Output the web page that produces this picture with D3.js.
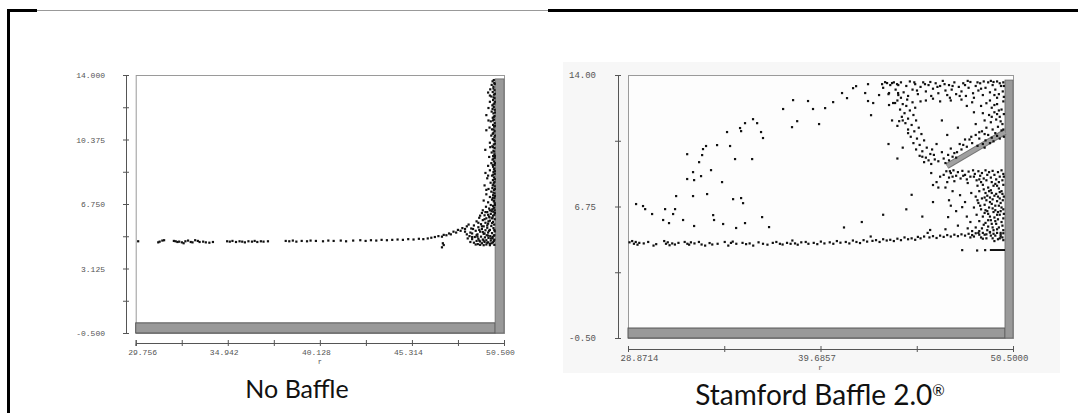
<!DOCTYPE html>
<html>
<head>
<meta charset="utf-8">
<script src="https://cdn.jsdelivr.net/npm/d3@7"></script>
<style>
  body { margin: 0; background: #fff; }
  .tick text, .lbl { font-family: "Liberation Mono", "DejaVu Sans Mono", monospace; fill: #555; }
  .title { font-family: Lato, "Open Sans", sans-serif; fill: #111; }
</style>
</head>
<body>
<svg id="chart" width="1078" height="413"></svg>
<script>
// ---- left panel: no baffle ----
const leftXTicks = [29.756, 34.942, 40.128, 45.314, 50.5]
const leftYTicks = [14.0, 10.375, 6.75, 3.125, -0.5]
const leftFloorTop = 0.07
const leftWall = { x: 50.0, top: 13.78 }

const leftBand = [
  [29.89,4.66],[31.02,4.6],[31.1,4.64],[31.25,4.7],[31.35,4.72],[31.9,4.68],[32.0,4.66],[32.1,4.62],[32.2,4.64],[32.35,4.6],
  [32.45,4.55],[32.55,4.66],[32.7,4.7],[32.85,4.62],[32.95,4.6],[33.1,4.72],[33.25,4.68],[33.35,4.62],[33.55,4.64],[33.7,4.6],
  [33.9,4.58],[34.1,4.62],[34.9,4.66],[35.05,4.64],[35.2,4.68],[35.4,4.62],[35.6,4.66],[35.75,4.64],[35.9,4.6],[36.1,4.66],
  [36.3,4.64],[36.45,4.68],[36.6,4.62],[36.8,4.66],[36.95,4.64],[37.2,4.66],[38.2,4.68],[38.4,4.66],[38.6,4.7],[38.8,4.64],
  [39.1,4.68],[39.4,4.66],[39.6,4.7],[39.9,4.68],[40.3,4.66],[40.6,4.7],[40.9,4.68],[41.3,4.7],[41.6,4.66],[42.0,4.7],
  [42.4,4.72],[42.7,4.68],[43.0,4.72],[43.3,4.7],[43.6,4.74],[43.9,4.72],[44.2,4.74],[44.5,4.76],[44.8,4.74],[45.1,4.78],
  [45.4,4.76],[45.7,4.8],[45.95,4.78],[46.2,4.82],[46.4,4.86],[46.6,4.9],[46.8,4.95],[47.0,4.92],[47.1,5.02],[47.25,5.0],
  [47.4,5.1],[47.5,5.05],[47.65,5.2],[47.8,5.15],[47.9,5.3],[48.05,5.25],[48.15,5.4],[48.3,5.35],[48.4,5.5],[47.0,4.32],
  [47.05,4.55],[47.1,4.45]
]
const leftCluster = [
  [49.92,13.72],[49.85,13.65],[49.95,13.55],[49.8,13.45],[49.9,13.35],[49.72,13.2],[49.96,13.15],[49.86,13.05],[49.6,13.02],[49.93,12.9],
  [49.78,12.8],[49.96,12.7],[49.88,12.6],[49.7,12.5],[49.95,12.4],[49.84,12.3],[49.92,12.2],[49.62,12.15],[49.97,12.05],[49.8,11.95],
  [49.9,11.85],[49.5,11.75],[49.96,11.7],[49.86,11.6],[49.93,11.5],[49.75,11.4],[49.97,11.3],[49.88,11.2],[49.94,11.1],[49.68,11.05],
  [49.82,10.95],[49.5,10.9],[49.96,10.85],[49.9,10.75],[49.78,10.6],[49.95,10.5],[49.86,10.4],[49.97,10.3],[49.7,10.2],[49.92,10.1],
  [49.84,10.0],[49.96,9.9],[49.44,9.8],[49.9,9.75],[49.8,9.65],[49.95,9.55],[49.88,9.45],[49.66,9.4],[49.97,9.35],[49.85,9.25],
  [49.93,9.15],[49.78,9.05],[49.96,8.95],[49.6,8.9],[49.88,8.85],[49.95,8.75],[49.7,8.65],[49.9,8.55],[49.45,8.5],[49.97,8.45],
  [49.82,8.35],[49.93,8.25],[49.55,8.2],[49.87,8.1],[49.96,8.0],[49.74,7.95],[49.9,7.85],[49.4,7.8],[49.97,7.75],[49.84,7.65],
  [49.62,7.6],[49.93,7.55],[49.78,7.45],[49.96,7.35],[49.5,7.3],[49.88,7.25],[49.7,7.15],[49.95,7.1],[49.82,7.0],[49.35,6.95],
  [49.92,6.9],[49.6,6.85],[49.97,6.8],[49.75,6.7],[49.88,6.65],[49.48,6.6],[49.94,6.55],[49.66,6.5],[49.83,6.45],[49.97,6.4],
  [49.9,6.32],[49.55,6.3],[49.25,6.25],[49.75,6.2],[49.95,6.15],[49.4,6.12],[49.65,6.05],[49.85,6.0],[49.1,5.98],[49.5,5.95],
  [49.97,5.9],[49.3,5.85],[49.7,5.82],[48.95,5.78],[49.88,5.75],[49.45,5.7],[49.6,5.65],[49.2,5.62],[49.94,5.6],[48.8,5.55],
  [49.78,5.52],[49.35,5.5],[49.05,5.45],[49.55,5.42],[49.9,5.4],[48.65,5.38],[49.25,5.35],[49.7,5.3],[49.45,5.28],[48.9,5.25],
  [49.97,5.22],[49.15,5.2],[49.6,5.15],[49.82,5.12],[48.7,5.1],[49.35,5.08],[49.0,5.05],[49.52,5.0],[49.92,4.98],[49.72,4.95],
  [48.55,4.95],[49.2,4.92],[48.85,4.9],[49.42,4.88],[49.62,4.85],[49.85,4.82],[49.05,4.8],[48.7,4.78],[49.3,4.76],[49.95,4.75],
  [49.5,4.72],[49.75,4.7],[48.95,4.68],[49.15,4.65],[49.4,4.62],[49.6,4.6],[49.88,4.6],[48.8,4.58],[49.25,4.55],[49.7,4.52],
  [49.02,4.5],[49.5,4.48],[49.95,4.46],[49.35,4.44]
]
const leftWallColumn = [
  [49.97,13.5],[49.9,13.25],[49.98,12.95],[49.91,12.75],[49.98,12.5],[49.9,12.35],[49.85,12.1],[49.98,11.9],[49.92,11.65],[49.88,11.45],
  [49.98,11.15],[49.91,10.95],[49.86,10.7],[49.98,10.6],[49.92,10.35],[49.98,10.15],[49.88,9.95],[49.94,9.7],[49.98,9.45],[49.9,9.3],
  [49.98,9.05],[49.86,8.95],[49.93,8.7],[49.98,8.6],[49.89,8.4],[49.98,8.15],[49.92,7.95],[49.86,7.8],[49.98,7.6],[49.9,7.4],
  [49.98,7.2],[49.86,7.1],[49.93,6.95],[49.98,6.7],[49.9,6.5],[49.8,6.35],[49.98,6.25],[49.88,6.1],[49.7,6.4],[49.6,6.15],
  [49.3,6.4],[49.15,6.1],[49.82,5.95],[49.4,5.9],[49.05,5.7],[49.62,5.78],[49.25,5.5],[48.75,5.35],[49.1,5.3],[49.65,5.25],
  [48.6,5.15],[49.3,5.18],[48.95,5.0],[49.6,4.98],[48.4,5.05],[48.45,4.82],[49.1,4.7],[49.35,4.7],[48.6,4.62],[49.8,4.55],
  [49.55,4.58],[48.9,4.48],[49.15,4.46],[49.7,4.44],[48.7,4.9],[49.0,4.92],[49.85,4.9],[48.3,5.2],[48.5,5.6],[49.45,6.3],
  [49.95,5.3],[49.95,5.0],[49.92,4.68],[49.75,4.82],[49.4,5.1],[49.55,5.55],[49.82,5.68],[49.68,6.0],[49.5,7.55],[49.6,8.35],
  [49.72,9.95],[49.62,11.45],[49.7,12.85]
]

// ---- right panel: Stamford Baffle 2.0 ----
const rightXTicks = [28.8714, 39.6857, 50.5]
const rightYTicks = [14.0, 6.75, -0.5]
const rightFloorTop = 0.05
const rightWall = { x: 50.05, top: 13.72 }
const baffle = [[46.79, 8.98], [50.05, 10.86]]
const ledge = [[49.2, 4.35], [50.05, 4.35]]

const rightBand = [
  [28.95,4.78],[29.1,4.85],[29.2,4.7],[29.3,4.8],[29.4,4.65],[29.5,4.75],[29.75,4.72],[30.0,4.8],[30.3,4.6],[30.45,4.68],
  [30.9,4.85],[31.0,4.7],[31.1,4.78],[31.2,4.62],[31.35,4.72],[31.5,4.66],[31.7,4.75],[32.05,4.8],[32.2,4.7],[32.3,4.65],
  [32.4,4.78],[32.6,4.72],[32.85,4.8],[33.0,4.66],[33.2,4.6],[33.45,4.74],[33.6,4.66],[33.9,4.7],[34.3,4.8],[34.5,4.6],
  [34.65,4.75],[34.75,4.82],[34.95,4.7],[35.3,4.75],[35.5,4.68],[35.7,4.72],[35.9,4.6],[36.2,4.78],[36.45,4.7],[36.7,4.65],
  [37.0,4.75],[37.2,4.8],[37.4,4.7],[37.55,4.66],[37.8,4.75],[38.0,4.7],[38.1,4.88],[38.25,4.72],[38.4,4.65],[38.6,4.78],
  [38.85,4.8],[39.0,4.7],[39.3,4.75],[39.5,4.68],[39.7,4.82],[39.9,4.72],[40.2,4.78],[40.4,4.7],[40.6,4.85],[40.8,4.76],
  [41.1,4.8],[41.3,4.72],[41.5,4.88],[41.7,4.8],[41.9,4.74],[42.1,4.9],[42.3,4.82],[42.5,5.1],[42.6,4.86],[42.8,4.9],
  [43.0,4.8],[43.2,4.95],[43.4,4.88],[43.6,4.92],[43.8,4.85],[44.0,4.98],[44.2,4.9],[44.4,5.05],[44.6,4.95],[44.8,5.0],
  [45.0,4.92],[45.15,5.08],[45.3,5.0],[45.5,5.1],[45.7,5.3],[45.84,5.46],[45.8,5.05],[46.0,5.12],[46.2,5.02],[46.4,5.15],
  [46.6,5.08],[46.8,5.18],[47.0,5.1],[47.2,5.2],[47.4,5.12],[47.6,5.22],[47.8,5.15],[48.0,5.25],[48.2,5.18],[48.4,5.28],
  [48.6,5.2],[48.8,5.3],[49.0,5.22],[49.2,5.32],[49.4,5.25],[49.6,5.3],[49.8,5.2],[49.95,5.28],
  [47.64,4.35],[48.48,4.33],[48.93,4.35]
]
const rightArcs = [
  [29.32,6.89],[29.71,6.78],[29.83,6.61],[30.22,6.34],[30.84,6.01],[30.95,6.61],[31.17,5.84],[31.4,6.34],[31.51,6.61],[31.57,7.33],
  [31.96,6.01],[32.19,9.64],[32.19,8.27],[32.52,7.33],[32.52,8.65],[32.58,5.68],[32.58,8.21],[32.86,9.2],[33.03,9.59],[32.97,8.43],
  [33.08,9.92],[33.25,10.09],[33.31,7.44],[33.53,8.76],[33.65,6.28],[33.7,6.01],[33.87,10.14],[34.15,8.1],[34.21,5.79],[34.43,10.86],
  [34.6,10.09],[34.77,7.16],[34.88,9.37],[34.94,5.57],[35.16,11.08],[35.22,10.91],[35.22,7.22],[35.33,6.94],[35.44,11.35],[35.44,5.84],
  [35.84,9.37],[35.89,11.57],[36.12,11.35],[36.34,10.86],[36.45,10.53],[36.4,6.17],[36.79,5.62],[37.58,12.13],[38.08,11.13],[38.14,12.62],
  [38.37,11.46],[38.98,12.57],[39.26,12.13],[39.6,11.3],[39.94,12.18],[40.39,12.51],[40.89,13.01],[41.17,12.73],[41.51,13.28],[41.68,13.39],
  [42.19,13.01],[42.35,13.5],[42.35,12.57],[42.52,11.79],[42.64,12.46],[42.97,12.9],[43.14,13.5],[43.31,13.61],[43.42,13.56],[43.53,12.35],
  [43.53,13.01],[43.7,13.56],[43.76,12.46],[43.87,12.46],[43.98,13.5],[44.04,13.01],[44.1,11.46],
  [41.0,5.6],[42.0,5.9],[43.2,6.3],[44.5,6.6],[45.4,6.2],[46.0,7.0],[46.3,7.8],[44.8,7.4]
]
const rightUpperLoop = [
  [43.2,13.3],[43.6,13.45],[43.9,13.2],[44.2,13.6],[44.35,13.05],[44.5,13.4],[44.7,13.65],[44.85,13.2],[45.0,13.5],[45.15,12.95],
  [45.3,13.35],[45.45,13.6],[45.6,13.1],[45.75,13.45],[45.9,12.85],[46.0,13.25],[46.15,13.55],[46.3,13.0],[46.4,13.4],[46.55,13.68],
  [46.7,13.15],[46.8,12.9],[46.9,13.45],[47.05,13.2],[47.2,13.6],[47.3,12.95],[47.45,13.35],[47.6,13.1],[47.7,13.55],[47.85,12.85],
  [48.0,13.3],[48.1,13.62],[48.25,13.0],[48.4,13.4],[48.55,13.15],[48.65,13.55],[48.8,12.9],[48.95,13.3],[49.1,13.6],[49.2,13.05],
  [49.35,13.45],[49.5,13.2],[49.6,13.65],[49.7,12.95],[49.82,13.4],[49.92,13.1],[49.95,13.6],[44.05,12.9],[45.1,13.15],[46.25,13.35],
  [47.5,12.85],[48.7,13.25],[49.45,12.9],[43.5,12.95],[44.6,12.85],[45.85,13.62],[47.95,13.68],[49.25,13.68],[46.95,12.75],[48.3,12.75],
  [44.0,12.6],[44.3,12.4],[44.15,12.1],[44.5,12.3],[44.4,11.9],[44.7,12.05],[44.25,11.7],[44.6,11.6],[44.9,11.8],[44.45,11.35],
  [44.8,11.25],[45.05,11.5],[44.6,11.0],[44.95,10.9],[45.2,11.1],[44.75,10.6],[45.1,10.5],[45.35,10.75],[44.9,10.25],[45.25,10.15],
  [45.5,10.4],[45.05,9.9],[45.4,9.8],[45.65,10.0],[45.25,9.55],[45.6,9.45],[45.85,9.65],[45.5,9.2],[45.9,9.1],[46.1,9.35],
  [43.7,11.5],[44.0,11.2],[43.5,10.2],[44.3,10.0],[44.0,9.4],[44.55,12.65],[45.3,12.55],[45.0,12.2],
  [45.6,12.6],[46.0,12.7],[46.4,12.55],[47.0,12.6],[47.6,12.65],[48.2,12.5],
  [48.7,12.3],[49.0,12.45],[49.3,12.2],[49.6,12.4],[49.85,12.1],[48.8,11.9],[49.15,11.8],[49.45,11.95],[49.75,11.7],[48.9,11.5],
  [49.25,11.4],[49.55,11.55],[49.9,11.3],[49.0,11.1],[49.35,11.0],[49.65,11.15],[48.75,10.9],[49.1,10.7],[49.5,10.8],[49.85,10.95],
  [48.6,10.5],[48.95,10.4],[49.3,10.55],[48.5,10.1],[48.8,10.2],[47.9,12.3],[48.3,11.95],[48.4,11.3],
  [46.3,9.25],[46.6,9.4],[46.85,9.6],[47.1,9.5],[47.35,9.75],[47.6,9.9],[47.9,10.05],[48.2,10.25],[47.0,9.95],[47.5,10.2],
  [46.5,9.75],[47.8,10.45],[48.15,10.6],[46.7,9.15],[46.9,9.3],[47.3,9.45],[48.4,10.7],[45.95,9.9],[46.2,10.2],
  [46.5,11.5],[47.4,11.1],[46.8,10.7],
  [49.98,13.4],[49.75,13.55],[49.4,13.62],[48.85,13.65],[48.5,13.6],[47.8,13.45],[47.1,13.4],[46.65,13.5],[45.55,13.5],[44.95,13.6],
  [44.05,13.45],[43.8,13.6],[49.98,12.8],[49.6,12.75],[49.2,12.6],[49.95,12.55],[49.7,12.05],[49.45,12.35],[49.98,11.85],[49.8,11.45],
  [49.6,11.85],[49.3,11.7],[49.95,11.0],[49.75,10.5],[49.98,10.6],[49.4,10.35],[49.2,10.25],[48.9,10.0],[49.6,10.65],[44.85,12.5],
  [44.2,12.75],[44.3,11.5],[44.6,10.8],[45.4,9.5],[45.75,9.3],[46.05,9.6],[47.2,9.7],[47.7,10.15],[48.05,10.45],[48.6,10.85],
  [48.9,10.75]
]
const rightLowerCloud = [
  [46.6,8.5],[46.75,8.7],[46.9,8.35],[47.0,8.6],[47.15,8.75],[47.3,8.45],[47.4,8.65],[47.55,8.3],[47.65,8.72],[47.8,8.5],
  [47.9,8.25],[48.0,8.68],[48.1,8.4],[48.25,8.75],[48.35,8.55],[48.45,8.2],[48.55,8.7],[48.65,8.45],[48.75,8.6],[48.85,8.3],
  [48.95,8.75],[49.05,8.5],[49.15,8.65],[49.25,8.35],[49.35,8.72],[49.45,8.5],[49.55,8.25],[49.65,8.65],[49.75,8.4],[49.85,8.75],
  [49.95,8.55],[47.2,8.15],[47.95,8.05],[48.7,8.1],[49.5,8.0],[46.8,8.1],
  [48.5,7.9],[48.8,7.95],[49.1,7.8],[49.4,7.9],[49.7,7.75],[49.95,7.95],[48.6,7.6],[48.95,7.5],[49.25,7.65],[49.55,7.45],
  [49.85,7.6],[48.4,7.3],[48.75,7.2],[49.05,7.35],[49.35,7.15],[49.65,7.3],[49.92,7.1],[48.55,6.95],[48.9,6.85],[49.2,7.0],
  [49.5,6.8],[49.8,6.95],[48.7,6.6],[49.05,6.5],[49.35,6.65],[49.65,6.45],[49.95,6.6],[48.45,6.3],[48.8,6.2],[49.1,6.35],
  [49.45,6.15],[49.75,6.3],[49.95,6.1],[48.6,5.95],[48.95,5.85],[49.25,6.0],[49.55,5.8],[49.85,5.9],[48.4,5.6],[48.75,5.55],
  [49.1,5.65],[49.4,5.45],[49.7,5.6],[49.95,5.45],[48.55,5.3],[48.9,5.2],[49.2,5.35],[49.5,5.15],[49.8,5.3],[48.7,5.05],
  [49.35,5.0],[49.9,5.05],[49.6,7.05],[49.15,6.7],[49.85,6.7],[49.0,7.1],[49.6,6.3],[49.3,5.8],[49.75,5.0],[48.2,5.4],
  [48.1,5.9],[48.3,6.7],[48.15,7.5],
  [46.7,7.8],[47.1,7.6],[47.52,7.38],[46.9,7.1],[47.64,6.72],[46.85,6.17],[47.3,6.5],[47.8,7.0],[47.9,6.2],[47.4,5.7],
  [46.7,5.5],[47.95,5.55],[47.0,6.8],[46.0,7.94],[46.4,8.4],[46.2,8.1],[45.9,8.6],
  [49.98,8.4],[49.9,8.2],[49.7,8.1],[49.3,8.1],[49.0,8.2],[48.6,8.25],[48.3,8.4],[47.7,8.45],[47.1,8.4],[46.95,8.7],
  [49.9,7.45],[49.75,7.2],[49.45,7.35],[49.2,7.25],[48.85,7.7],[49.6,7.9],[49.3,7.5],[49.98,7.3],[49.8,6.5],[49.5,6.55],
  [49.3,6.9],[48.95,6.55],[49.7,6.8],[49.98,6.35],[49.4,6.45],[49.2,6.2],[48.9,6.4],[49.65,6.05],[49.9,5.7],[49.6,5.5],
  [49.35,5.6],[49.05,5.45],[48.85,5.75],[49.5,5.95],[49.8,5.1],[49.25,5.15],[49.0,5.0],[49.65,4.95],[48.6,5.4],[48.3,5.1],
  [49.95,4.9],[49.45,4.85],[48.8,4.98],[48.1,5.05],[49.1,6.0],[49.75,7.55],[49.15,7.6],[48.5,7.1],[48.65,6.8],[48.9,7.25]
]

const svg = d3.select('#chart')

// outer slide frame
svg.append('path').attr('d', 'M8.5,413 V10.5 H37').attr('fill', 'none').attr('stroke', '#000').attr('stroke-width', 3)
svg.append('path').attr('d', 'M37,10.5 H548').attr('fill', 'none').attr('stroke', '#999').attr('stroke-width', 1)
svg.append('path').attr('d', 'M548,10.5 H1078').attr('fill', 'none').attr('stroke', '#000').attr('stroke-width', 3)

// light backdrop behind the right screenshot
svg.append('rect').attr('x', 563).attr('y', 62).attr('width', 497).attr('height', 311).attr('fill', '#f7f7f7')

const midpoints = ticks => ticks.slice(1).map((t, i) => (t + ticks[i]) / 2)

const drawPanel = cfg => {
    const x = d3.scaleLinear().domain([cfg.xTicks[0], cfg.xTicks[cfg.xTicks.length - 1]]).range([cfg.left, cfg.right])
    const y = d3.scaleLinear().domain([-0.5, 14]).range([cfg.bottom, cfg.top])
    const g = svg.append('g')

    // plot box
    g.append('rect')
        .attr('x', cfg.left + 0.5).attr('y', cfg.top + 0.5)
        .attr('width', cfg.right - cfg.left).attr('height', cfg.bottom - cfg.top)
        .attr('fill', cfg.inner).attr('stroke', '#9a9a9a')

    // floor and outlet wall
    g.append('rect')
        .attr('x', x(cfg.xTicks[0])).attr('y', y(cfg.floorTop))
        .attr('width', x(cfg.wall.x) - x(cfg.xTicks[0])).attr('height', y(-0.5) - y(cfg.floorTop))
        .attr('fill', '#999').attr('stroke', '#555').attr('stroke-width', 1)
    g.append('rect')
        .attr('x', x(cfg.wall.x)).attr('y', y(cfg.wall.top))
        .attr('width', x(50.5) - x(cfg.wall.x)).attr('height', y(-0.5) - y(cfg.wall.top))
        .attr('fill', '#999').attr('stroke', '#666').attr('stroke-width', 0.8)

    if (cfg.baffle) {
        const line = d3.line().x(d => x(d[0])).y(d => y(d[1]))
        g.append('path').attr('d', line(cfg.baffle)).attr('stroke', '#777').attr('stroke-width', 6).attr('fill', 'none')
        g.append('path').attr('d', line(cfg.baffle)).attr('stroke', '#a0a0a0').attr('stroke-width', 4).attr('fill', 'none')
        g.append('path').attr('d', line(cfg.ledge)).attr('stroke', '#111').attr('stroke-width', 2).attr('fill', 'none')
    }

    // particles
    g.append('g').selectAll('rect')
        .data(cfg.points)
        .join('rect')
        .attr('x', d => x(d[0]) - 1)
        .attr('y', d => y(d[1]) - 1)
        .attr('width', cfg.dot).attr('height', cfg.dot)
        .attr('fill', '#111')

    // y axis (ticks on both sides)
    const yAxis = g.append('g').attr('transform', `translate(${cfg.axisX},0)`)
    yAxis.call(d3.axisLeft(y).tickValues(cfg.yTicks).tickSize(3).tickSizeOuter(3)
        .tickPadding(cfg.yPad).tickFormat(d => d.toFixed(cfg.yDigits)))
    yAxis.call(a => a.append('g').call(d3.axisRight(y).tickValues(cfg.yTicks.concat(midpoints(cfg.yTicks)))
        .tickSize(3).tickSizeOuter(3).tickFormat('')))
    yAxis.call(a => a.append('g').call(d3.axisLeft(y).tickValues(midpoints(cfg.yTicks)).tickSize(3).tickFormat('')))

    // x axis
    const xAxis = g.append('g').attr('transform', `translate(0,${cfg.axisY})`)
    xAxis.call(d3.axisBottom(x).tickValues(cfg.xTicks).tickSize(3).tickSizeOuter(3)
        .tickPadding(3).tickFormat(d => d.toFixed(cfg.xDigits)))
    xAxis.call(a => a.append('g').call(d3.axisTop(x).tickValues(cfg.xTicks.concat(midpoints(cfg.xTicks)))
        .tickSize(3).tickSizeOuter(3).tickFormat('')))
    xAxis.call(a => a.append('g').call(d3.axisBottom(x).tickValues(midpoints(cfg.xTicks)).tickSize(3).tickFormat('')))
    xAxis.selectAll('text').attr('dx', -4)
    xAxis.selectAll('.tick text').filter((d, i) => i === 0).attr('text-anchor', 'start').attr('dx', -8)

    g.selectAll('.domain, .tick line').attr('stroke', '#555')
    g.selectAll('.tick text').style('font-size', cfg.font + 'px').attr('fill', '#555')

    g.append('text').attr('class', 'lbl')
        .attr('x', x((cfg.xTicks[0] + cfg.xTicks[cfg.xTicks.length - 1]) / 2))
        .attr('y', cfg.axisY + 21).attr('text-anchor', 'middle')
        .style('font-size', (cfg.font - 1) + 'px').text('r')

    g.append('text').attr('class', 'title')
        .attr('x', cfg.titleX).attr('y', cfg.titleY).attr('text-anchor', 'middle')
        .style('font-size', cfg.titleSize + 'px')
        .text(cfg.title)
        .call(t => { if (cfg.mark) t.append('tspan').attr('baseline-shift', 'super').style('font-size', '15px').text(cfg.mark) })
}

drawPanel({
    xTicks: leftXTicks, yTicks: leftYTicks, xDigits: 3, yDigits: 3,
    left: 135.7, right: 504, top: 75, bottom: 333, axisX: 126, axisY: 343, yPad: 18,
    floorTop: leftFloorTop, wall: leftWall, inner: '#fff', dot: 2.2, font: 8,
    points: leftBand.concat(leftCluster, leftWallColumn),
    title: 'No Baffle', titleX: 297, titleY: 398, titleSize: 25
})

drawPanel({
    xTicks: rightXTicks, yTicks: rightYTicks, xDigits: 4, yDigits: 2,
    left: 628, right: 1013, top: 75, bottom: 338, axisX: 618, axisY: 349, yPad: 19,
    floorTop: rightFloorTop, wall: rightWall, inner: '#fdfdfd', dot: 2.2, font: 9,
    baffle: baffle, ledge: ledge,
    points: rightBand.concat(rightArcs, rightUpperLoop, rightLowerCloud),
    title: 'Stamford Baffle 2.0', mark: '®', titleX: 820, titleY: 405, titleSize: 28
})
</script>
</body>
</html>
